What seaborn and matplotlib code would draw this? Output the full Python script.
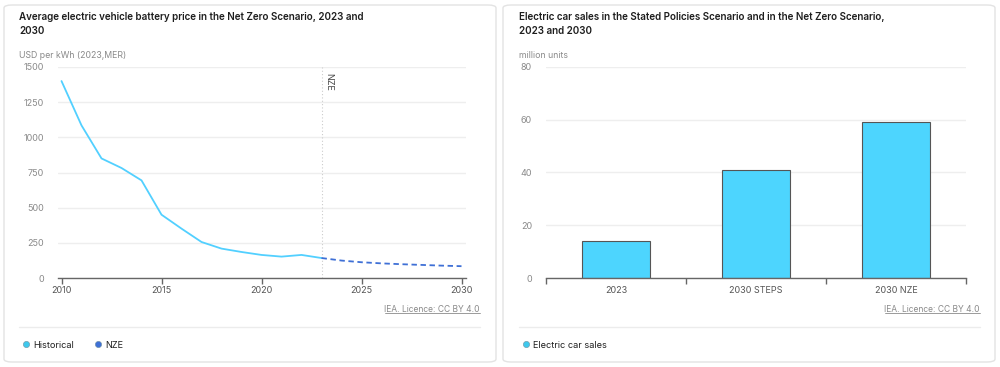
import matplotlib.pyplot as plt
import seaborn as sns
import pandas as pd
from matplotlib.patches import FancyBboxPatch
from matplotlib.lines import Line2D

# dados
anos_hist = [2010, 2011, 2012, 2013, 2014, 2015, 2016, 2017, 2018, 2019, 2020, 2021, 2022, 2023]
preco_hist = [1400, 1085, 850, 782, 694, 450, 351, 256, 209, 185, 164, 152, 164, 142]
anos_nze = [2023, 2024, 2025, 2026, 2027, 2028, 2029, 2030]
preco_nze = [142, 124, 112, 104, 98, 93, 88, 84]

categorias = ['2023', '2030 STEPS', '2030 NZE']
vendas = [14, 41, 59]

sns.set_theme(style="white")
plt.rcParams['font.family'] = ['Inter', 'DejaVu Sans']

W, H = 1000, 367
fig = plt.figure(figsize=(10, 3.67), dpi=100)

def fx(px):
    return px / W

def fy(py):
    return 1 - py / H

# cartões de fundo
for x0, x1 in [(4, 496), (503, 995)]:
    card = FancyBboxPatch((fx(x0), fy(362)), fx(x1 - x0), (362 - 5) / H,
                          boxstyle="round,pad=0,rounding_size=0.008",
                          transform=fig.transFigure, facecolor='white',
                          edgecolor='#e3e3e3', linewidth=1, zorder=-10)
    fig.patches.append(card)

cor_titulo = '#1e1e1e'
cor_cinza = '#8a8a8a'
cor_hist = '#52d0ff'
cor_nze = '#3f70d6'
cor_barra = '#4dd5fe'

def estilo_eixo(ax):
    ax.patch.set_alpha(0)
    for s in ['top', 'right', 'left']:
        ax.spines[s].set_visible(False)
    ax.spines['bottom'].set_color('#666666')
    ax.spines['bottom'].set_linewidth(1)
    ax.tick_params(axis='y', length=0, labelsize=6.5, labelcolor=cor_cinza, pad=10)
    ax.tick_params(axis='x', bottom=True, labelsize=6.5, labelcolor='#555555', color='#666666',
                   length=4, width=1, direction='out', pad=2)
    ax.yaxis.grid(True, color='#eeeeee', linewidth=1)
    ax.set_axisbelow(True)
    ax.set_xlabel('')
    ax.set_ylabel('')

# --- A. PREÇO DAS BATERIAS ---
ax1 = fig.add_axes([fx(58), fy(278), fx(466 - 58), (278 - 67) / H])
df_hist = pd.DataFrame({'Ano': anos_hist, 'Preço': preco_hist})
df_nze = pd.DataFrame({'Ano': anos_nze, 'Preço': preco_nze})
sns.lineplot(data=df_hist, x='Ano', y='Preço', ax=ax1, color=cor_hist, linewidth=1.3)
sns.lineplot(data=df_nze, x='Ano', y='Preço', ax=ax1, color=cor_nze, linewidth=1.3,
             linestyle=(0, (3, 2)))
ax1.set_xlim(2009.825, 2030.225)
ax1.set_ylim(0, 1500)
ax1.set_yticks(range(0, 1501, 250))
ax1.set_xticks([2010, 2015, 2020, 2025, 2030])
estilo_eixo(ax1)
ax1.axvline(2023, color='#cccccc', linewidth=0.8, linestyle=(0, (1, 2)), zorder=1)
ax1.text(2023.15, 1460, 'NZE', rotation=270, fontsize=6.5, color='#444444',
         ha='left', va='top')

fig.text(fx(19), fy(24), 'Average electric vehicle battery price in the Net Zero Scenario, 2023 and\n2030',
         fontsize=7.1, color=cor_titulo, fontweight='semibold', va='center', linespacing=1.6)
fig.text(fx(19), fy(55), 'USD per kWh (2023,MER)', fontsize=6.3, color=cor_cinza, va='center')

# --- B. VENDAS DE CARROS ELÉTRICOS ---
ax2 = fig.add_axes([fx(546), fy(278), fx(966 - 546), (278 - 67) / H])
df_vendas = pd.DataFrame({'Categoria': categorias, 'Vendas': vendas})
sns.barplot(data=df_vendas, x='Categoria', y='Vendas', ax=ax2, color=cor_barra,
            saturation=1, width=0.49, edgecolor='#555555', linewidth=0.8)
ax2.set_xlim(-0.5, 2.5)
ax2.set_ylim(0, 80)
ax2.set_yticks([0, 20, 40, 60, 80])
estilo_eixo(ax2)
ax2.set_xticks([-0.5, 0.5, 1.5, 2.5], minor=True)
ax2.tick_params(axis='x', which='major', length=0, pad=6)
ax2.tick_params(axis='x', which='minor', bottom=True, length=4, width=1, color='#666666')

fig.text(fx(519), fy(24), 'Electric car sales in the Stated Policies Scenario and in the Net Zero Scenario,\n2023 and 2030',
         fontsize=7.1, color=cor_titulo, fontweight='semibold', va='center', linespacing=1.6)
fig.text(fx(519), fy(55), 'million units', fontsize=6.3, color=cor_cinza, va='center')

# rodapés: licença, separador e legenda
fig.canvas.draw()
renderer = fig.canvas.get_renderer()
for x_dir, x_esq in [(480, 19), (980, 519)]:
    t = fig.text(fx(x_dir), fy(310), 'IEA. Licence: CC BY 4.0', fontsize=6.1,
                 color=cor_cinza, ha='right', va='center')
    bb = t.get_window_extent(renderer).transformed(fig.transFigure.inverted())
    fig.add_artist(Line2D([bb.x0, bb.x1], [bb.y0 + 0.004, bb.y0 + 0.004],
                          transform=fig.transFigure, color=cor_cinza, linewidth=0.6))
    fig.add_artist(Line2D([fx(x_esq), fx(x_dir)], [fy(327), fy(327)],
                          transform=fig.transFigure, color='#ececec', linewidth=1))

def bolinha(cor):
    return Line2D([0], [0], marker='o', linestyle='', markersize=4.5,
                  markerfacecolor=cor, markeredgecolor='#6f8fa0', markeredgewidth=0.4)

fig.legend([bolinha('#3ec8ec'), bolinha(cor_nze)], ['Historical', 'NZE'],
           loc='center left', bbox_to_anchor=(fx(12), fy(345)), ncol=2, frameon=False,
           fontsize=6.6, handletextpad=0.2, columnspacing=2.0, handlelength=1.2,
           labelcolor=cor_titulo)
fig.legend([bolinha('#3ec8ec')], ['Electric car sales'],
           loc='center left', bbox_to_anchor=(fx(512), fy(345)), frameon=False,
           fontsize=6.6, handletextpad=0.2, handlelength=1.2, labelcolor=cor_titulo)

plt.savefig('out.png', dpi=100)
